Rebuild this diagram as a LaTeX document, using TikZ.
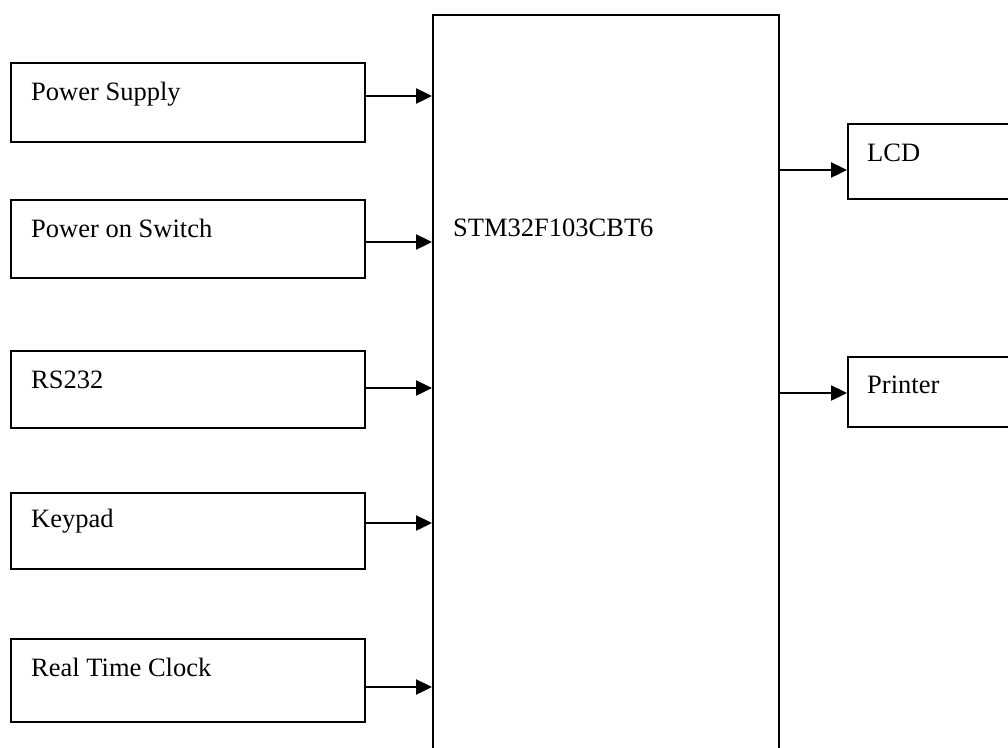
\documentclass[tikz,border=0pt]{standalone}
\usepackage{fontspec}
\setmainfont{Liberation Serif}
\usetikzlibrary{arrows.meta}
\begin{document}
\begin{tikzpicture}[x=1pt,y=-1pt,
  blk/.style={draw=black,line width=2pt,rectangle,inner sep=0pt,anchor=north west},
  lbl/.style={anchor=base west,inner sep=0pt,font=\fontsize{26.5}{30}\selectfont},
  arr/.style={line width=2.4pt,-{Triangle[length=16pt,width=15pt]}}]
\useasboundingbox (0,0) rectangle (1008,747);
\clip (0,0) rectangle (1008,747);
\fill[white] (0,0) rectangle (1008,747);
% main controller
\node[blk,minimum width=346pt,minimum height=780pt] (mcu) at (432,14) {};
\node[lbl] (mcut) at (453,236) {STM32F103CBT6};
% inputs
\node[blk,minimum width=354pt,minimum height=79pt] (ps) at (10,62) {};
\node[lbl] (pst) at (31,100) {Power Supply};
\node[blk,minimum width=354pt,minimum height=78pt] (sw) at (10,199) {};
\node[lbl] (swt) at (31,237) {Power on Switch};
\node[blk,minimum width=354pt,minimum height=77pt] (rs) at (10,350) {};
\node[lbl] (rst) at (31,388) {RS232};
\node[blk,minimum width=354pt,minimum height=76pt] (kp) at (10,492) {};
\node[lbl] (kpt) at (31,527) {Keypad};
\node[blk,minimum width=354pt,minimum height=83pt] (rtc) at (10,638) {};
\node[lbl] (rtct) at (31,676) {Real Time Clock};
% outputs
\node[blk,minimum width=200pt,minimum height=75pt] (lcd) at (847,123) {};
\node[lbl] (lcdt) at (867,161) {LCD};
\node[blk,minimum width=200pt,minimum height=70pt] (prn) at (847,356) {};
\node[lbl] (prnt) at (867,393) {Printer};
% connectors
\draw[arr] (ps.east |- 0,96) -- (mcu.west |- 0,96);
\draw[arr] (sw.east |- 0,242) -- (mcu.west |- 0,242);
\draw[arr] (rs.east |- 0,388) -- (mcu.west |- 0,388);
\draw[arr] (kp.east |- 0,523) -- (mcu.west |- 0,523);
\draw[arr] (rtc.east |- 0,687) -- (mcu.west |- 0,687);
\draw[arr] (mcu.east |- 0,170) -- (lcd.west |- 0,170);
\draw[arr] (mcu.east |- 0,393) -- (prn.west |- 0,393);
\end{tikzpicture}
\end{document}
